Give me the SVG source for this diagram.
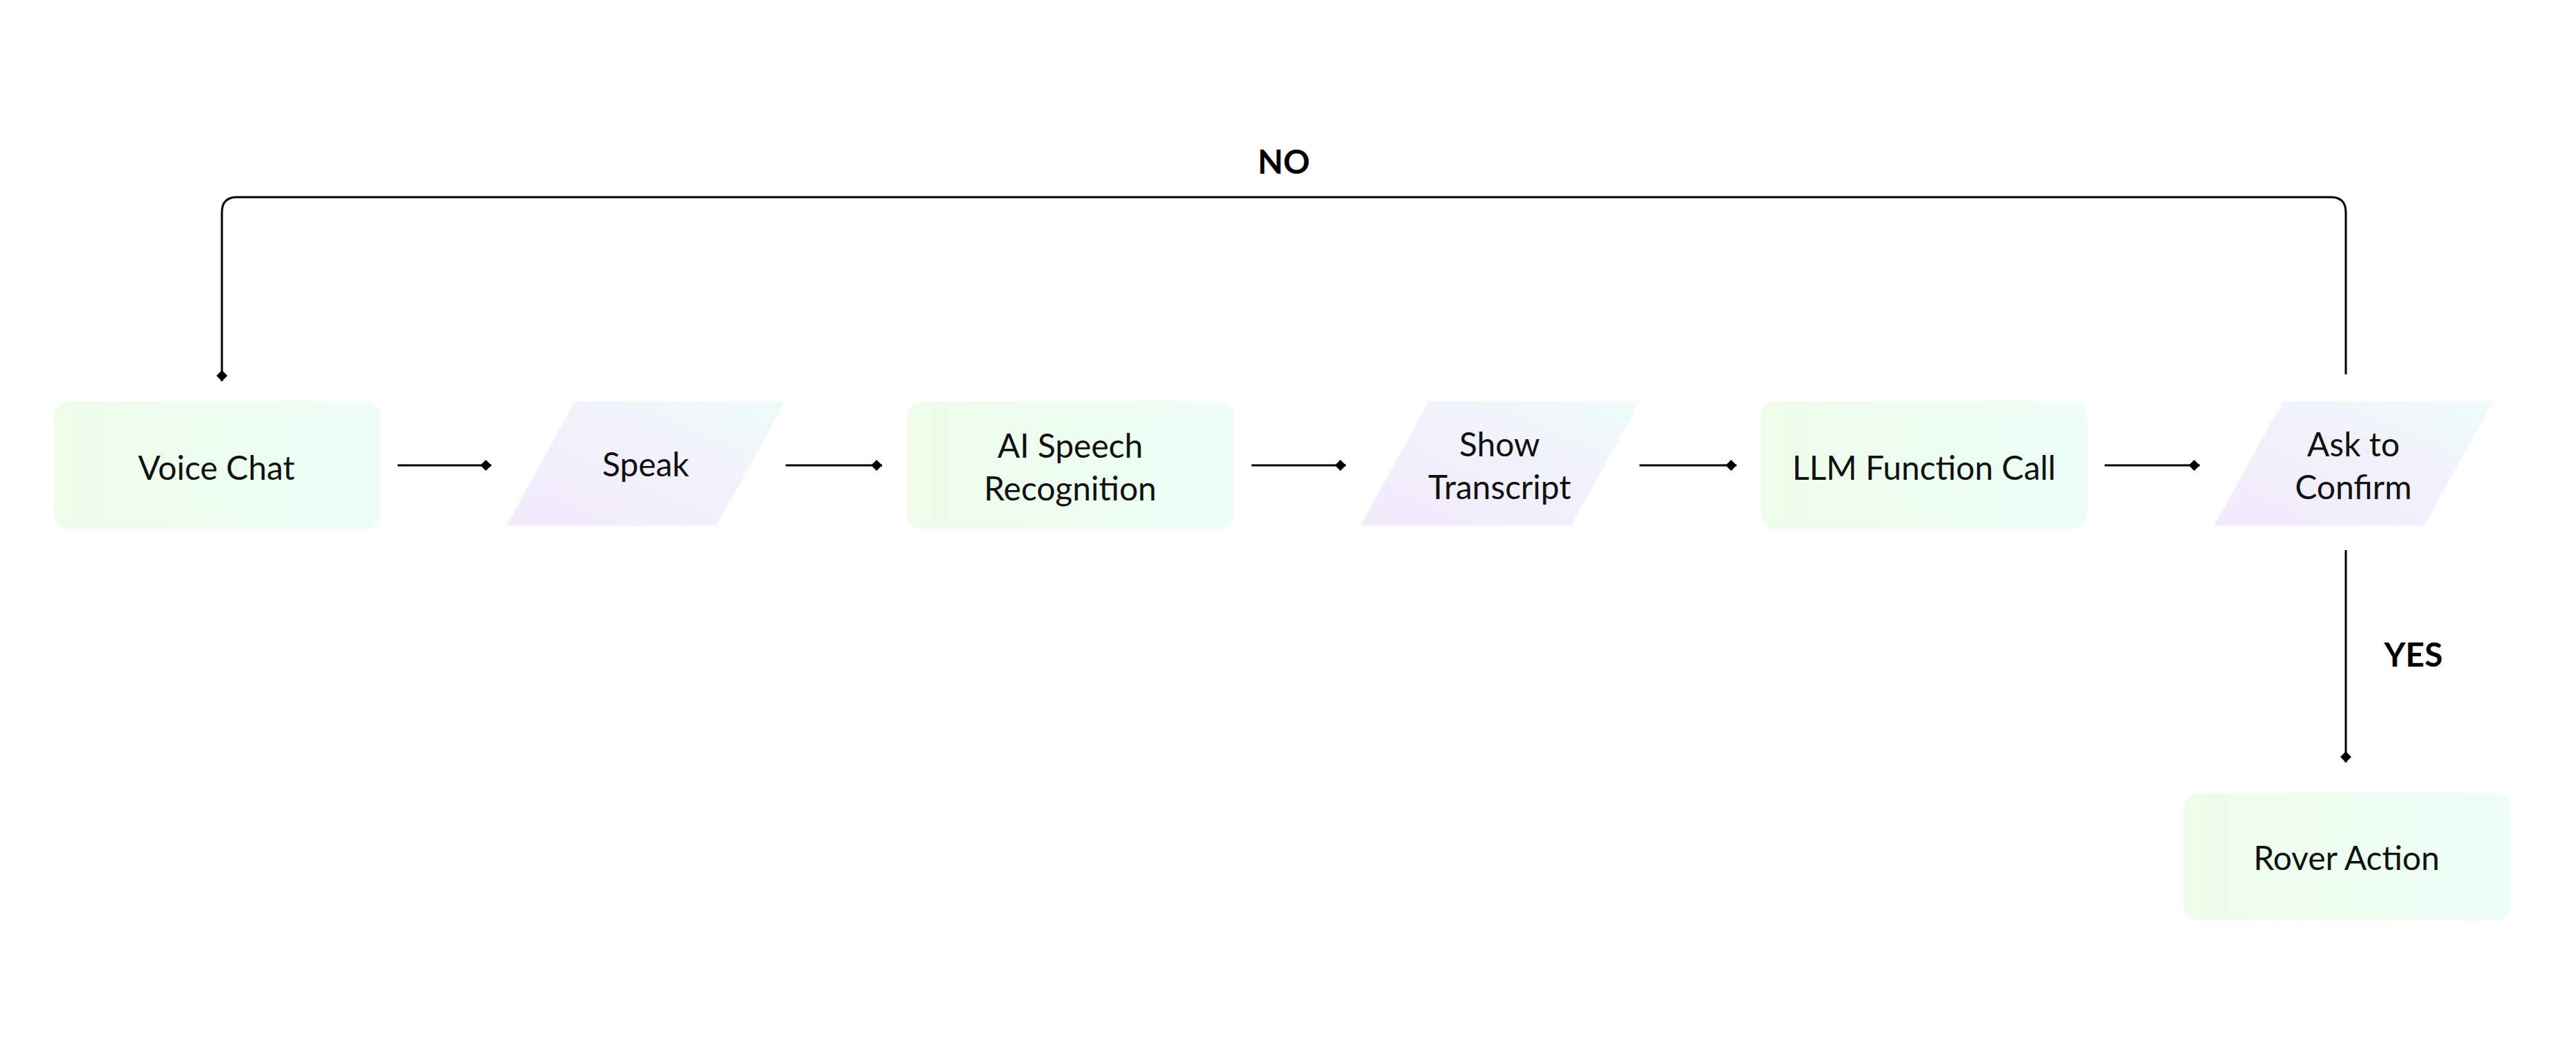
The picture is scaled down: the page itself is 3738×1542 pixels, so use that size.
<svg xmlns="http://www.w3.org/2000/svg" width="3738" height="1542" viewBox="0 0 3738 1542">
<style>
  .lbl { font-family: Lato, "Liberation Sans", sans-serif; font-size: 48px; fill: #111; text-anchor: middle; }
  .edge-lbl { font-family: Lato, "Liberation Sans", sans-serif; font-size: 48px; font-weight: bold; fill: #000; text-anchor: middle; }
  .conn { fill: none; stroke: #000; stroke-width: 3; }
  .proc { fill: url(#gProc); stroke: #fbfdfb; stroke-width: 2; }
  .io { fill: url(#gIo); stroke: #fbfbfd; stroke-width: 2; }
</style>
<defs>
  <linearGradient id="gProc" x1="0" y1="0" x2="1" y2="0">
    <stop offset="0" stop-color="#EEFCE9"/>
    <stop offset="1" stop-color="#ECFEF7"/>
  </linearGradient>
  <linearGradient id="gIo" x1="0" y1="1" x2="1" y2="0">
    <stop offset="0" stop-color="#F2EAFC"/>
    <stop offset="0.6" stop-color="#F1F2FB"/>
    <stop offset="1" stop-color="#EDFCF8"/>
  </linearGradient>
  <marker id="dia" markerUnits="userSpaceOnUse" markerWidth="18" markerHeight="18" viewBox="0 -9 18 18" refX="16" refY="0" orient="auto">
    <path d="M0,0 L8,-8 L16,0 L8,8 Z" fill="#000"/>
  </marker>
</defs>
<rect width="3738" height="1542" fill="#fff"/>

<g id="connectors">
  <path class="conn" d="M577,675 L713,675" marker-end="url(#dia)"/>
  <path class="conn" d="M1140,675 L1280,675" marker-end="url(#dia)"/>
  <path class="conn" d="M1816,675 L1953,675" marker-end="url(#dia)"/>
  <path class="conn" d="M2379,675 L2520,675" marker-end="url(#dia)"/>
  <path class="conn" d="M3054,675 L3192,675" marker-end="url(#dia)"/>
  <path class="conn" d="M3404,543 L3404,308 Q3404,286 3382,286 L344,286 Q322,286 322,308 L322,553" marker-end="url(#dia)"/>
  <path class="conn" d="M3404,798 L3404,1106" marker-end="url(#dia)"/>
  <text class="edge-lbl" x="1863" y="252">NO</text>
  <text class="edge-lbl" x="3502" y="967">YES</text>
</g>

<g id="voice-chat">
  <rect class="proc" x="78" y="582" width="474" height="186" rx="22"/>
  <text class="lbl" x="314" y="696">Voice Chat</text>
</g>
<g id="speak">
  <polygon class="io" points="734,763 834,582 1140,582 1040,763"/>
  <text class="lbl" x="937" y="691">Speak</text>
</g>
<g id="ai-speech-recognition">
  <rect class="proc" x="1316" y="582" width="475" height="186" rx="22"/>
  <text class="lbl" x="1553" y="664">AI Speech</text>
  <text class="lbl" x="1553" y="726">Recognition</text>
</g>
<g id="show-transcript">
  <polygon class="io" points="1973,763 2073,582 2380,582 2280,763"/>
  <text class="lbl" x="2176" y="662">Show</text>
  <text class="lbl" x="2176" y="724">Transcript</text>
</g>
<g id="llm-function-call">
  <rect class="proc" x="2555" y="582" width="474" height="186" rx="22"/>
  <text class="lbl" x="2792" y="696">LLM Function Call</text>
</g>
<g id="ask-to-confirm">
  <polygon class="io" points="3212,763 3312,582 3618,582 3518,763"/>
  <text class="lbl" x="3415" y="662">Ask to</text>
  <text class="lbl" x="3415" y="724">Confirm</text>
</g>
<g id="rover-action">
  <rect class="proc" x="3168" y="1150" width="475" height="185" rx="22"/>
  <text class="lbl" x="3405" y="1262">Rover Action</text>
</g>
</svg>
